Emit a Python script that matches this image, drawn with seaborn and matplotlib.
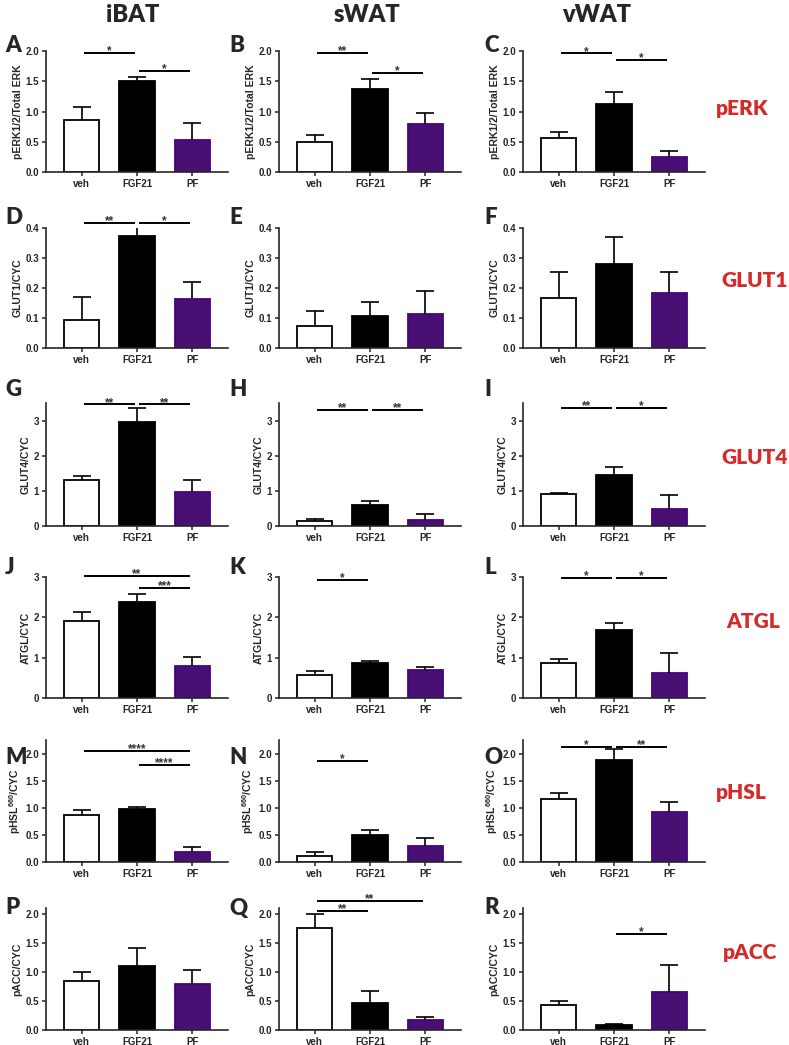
import numpy as np
import pandas as pd
import matplotlib
matplotlib.use("Agg")
import matplotlib.pyplot as plt
import seaborn as sns

# Groups and labels

groups = ["veh", "FGF21", "PF"]
tissues = ["iBAT", "sWAT", "vWAT"]
markers = ["pERK", "GLUT1", "GLUT4", "ATGL", "pHSL", "pACC"]
ylabels = ["pERK1/2/Total ERK", "GLUT1/CYC", "GLUT4/CYC", "ATGL/CYC",
           "pHSL$^{660}$/CYC", "pACC/CYC"]
letters = list("ABCDEFGHIJKLMNOPQR")

# Means and SEM (veh, FGF21, PF)

perk_ibat = [0.86, 1.51, 0.53]
perk_ibat_err = [0.21, 0.06, 0.28]
perk_swat = [0.50, 1.38, 0.79]
perk_swat_err = [0.11, 0.16, 0.18]
perk_vwat = [0.56, 1.13, 0.25]
perk_vwat_err = [0.10, 0.19, 0.09]

glut1_ibat = [0.093, 0.372, 0.163]
glut1_ibat_err = [0.076, 0.031, 0.057]
glut1_swat = [0.073, 0.107, 0.115]
glut1_swat_err = [0.052, 0.046, 0.075]
glut1_vwat = [0.167, 0.280, 0.185]
glut1_vwat_err = [0.088, 0.090, 0.068]

glut4_ibat = [1.30, 2.97, 0.98]
glut4_ibat_err = [0.12, 0.38, 0.34]
glut4_swat = [0.15, 0.60, 0.18]
glut4_swat_err = [0.05, 0.12, 0.15]
glut4_vwat = [0.90, 1.45, 0.48]
glut4_vwat_err = [0.05, 0.24, 0.39]

atgl_ibat = [1.92, 2.38, 0.80]
atgl_ibat_err = [0.22, 0.21, 0.21]
atgl_swat = [0.57, 0.87, 0.70]
atgl_swat_err = [0.09, 0.05, 0.06]
atgl_vwat = [0.87, 1.68, 0.62]
atgl_vwat_err = [0.10, 0.19, 0.50]

phsl_ibat = [0.86, 0.98, 0.19]
phsl_ibat_err = [0.09, 0.04, 0.08]
phsl_swat = [0.11, 0.50, 0.30]
phsl_swat_err = [0.07, 0.09, 0.15]
phsl_vwat = [1.16, 1.88, 0.92]
phsl_vwat_err = [0.11, 0.20, 0.19]

pacc_ibat = [0.85, 1.11, 0.79]
pacc_ibat_err = [0.14, 0.31, 0.24]
pacc_swat = [1.76, 0.47, 0.17]
pacc_swat_err = [0.23, 0.20, 0.05]
pacc_vwat = [0.43, 0.08, 0.65]
pacc_vwat_err = [0.07, 0.03, 0.47]

# Significance brackets: (from group, to group, height, stars)

sig_a = [(0, 1, 1.97, "*"), (1, 2, 1.67, "*")]
sig_b = [(0, 1, 1.97, "**"), (1, 2, 1.64, "*")]
sig_c = [(0, 1, 1.96, "*"), (1, 2, 1.85, "*")]
sig_d = [(0, 1, 0.418, "**"), (1, 2, 0.418, "*")]
sig_e = []
sig_f = []
sig_g = [(0, 1, 3.46, "**"), (1, 2, 3.46, "**")]
sig_h = [(0, 1, 3.31, "**"), (1, 2, 3.31, "**")]
sig_i = [(0, 1, 3.37, "**"), (1, 2, 3.37, "*")]
sig_j = [(0, 2, 3.03, "**"), (1, 2, 2.73, "***")]
sig_k = [(0, 1, 2.93, "*")]
sig_l = [(0, 1, 2.98, "*"), (1, 2, 2.98, "*")]
sig_m = [(0, 2, 2.05, "****"), (1, 2, 1.79, "****")]
sig_n = [(0, 1, 1.87, "*")]
sig_o = [(0, 1, 2.13, "*"), (1, 2, 2.13, "**")]
sig_p = []
sig_q = [(0, 2, 2.22, "**"), (0, 1, 2.05, "**")]
sig_r = [(1, 2, 1.66, "*")]

means = [
    [perk_ibat, perk_swat, perk_vwat],
    [glut1_ibat, glut1_swat, glut1_vwat],
    [glut4_ibat, glut4_swat, glut4_vwat],
    [atgl_ibat, atgl_swat, atgl_vwat],
    [phsl_ibat, phsl_swat, phsl_vwat],
    [pacc_ibat, pacc_swat, pacc_vwat],
]
errors = [
    [perk_ibat_err, perk_swat_err, perk_vwat_err],
    [glut1_ibat_err, glut1_swat_err, glut1_vwat_err],
    [glut4_ibat_err, glut4_swat_err, glut4_vwat_err],
    [atgl_ibat_err, atgl_swat_err, atgl_vwat_err],
    [phsl_ibat_err, phsl_swat_err, phsl_vwat_err],
    [pacc_ibat_err, pacc_swat_err, pacc_vwat_err],
]
sigs = [
    [sig_a, sig_b, sig_c],
    [sig_d, sig_e, sig_f],
    [sig_g, sig_h, sig_i],
    [sig_j, sig_k, sig_l],
    [sig_m, sig_n, sig_o],
    [sig_p, sig_q, sig_r],
]

# Axis ranges and ticks per row
ytops = [2.0, 0.4, 3.5, 3.0, 2.25, 2.1]
yticks = [[0, 0.5, 1.0, 1.5, 2.0], [0, 0.1, 0.2, 0.3, 0.4], [0, 1, 2, 3],
          [0, 1, 2, 3], [0, 0.5, 1.0, 1.5, 2.0], [0, 0.5, 1.0, 1.5, 2.0]]
yfmt = ["%.1f", "%.1f", "%d", "%d", "%.1f", "%.1f"]

# Style

purple = "#4B0082"
palette = {"veh": "white", "FGF21": "black", "PF": purple}
edges = ["black", "black", purple]
red = "#D42A2A"

sns.set_style("ticks")
plt.rcParams["font.family"] = ["Liberation Sans", "DejaVu Sans"]
plt.rcParams["font.weight"] = "bold"
plt.rcParams["axes.labelweight"] = "bold"
plt.rcParams["mathtext.fontset"] = "custom"
plt.rcParams["mathtext.bf"] = "Liberation Sans:bold"
plt.rcParams["mathtext.rm"] = "Liberation Sans:bold"
plt.rcParams["mathtext.default"] = "bf"

W, H = 789, 1045
fig = plt.figure(figsize=(W / 100, H / 100), dpi=100)

col_left = [46, 279, 523]
col_width = 182
rows_px = [(51, 172), (228, 348), (403, 526), (577, 698), (740, 862), (908, 1030)]

for r in range(6):
    top, bot = rows_px[r]
    for c in range(3):
        ax = fig.add_axes([col_left[c] / W, 1 - bot / H, col_width / W, (bot - top) / H])
        df = pd.DataFrame({"group": groups, "value": means[r][c]})
        sns.barplot(data=df, x="group", y="value", hue="group", order=groups,
                    hue_order=groups, palette=palette, width=0.64, errorbar=None,
                    legend=False, linewidth=1.3, edgecolor="black", ax=ax)
        for patch, ec in zip(ax.patches, edges):
            patch.set_edgecolor(ec)

        # upward-only SEM bars
        err = np.array(errors[r][c])
        eb = ax.errorbar(np.arange(3), means[r][c], yerr=[np.zeros(3), err],
                         fmt="none", ecolor="black", elinewidth=1.2,
                         capsize=6.5, capthick=1.2, zorder=3)
        eb[1][0].set_visible(False)

        for i, j, y, label in sigs[r][c]:
            ax.plot([i + 0.03, j - 0.03], [y, y], color="black", lw=1.4,
                    clip_on=False, solid_capstyle="butt")
            ax.annotate(label, xy=((i + j) / 2, y), xytext=(0, -1.0),
                        textcoords="offset points", ha="center", va="baseline",
                        fontsize=8.5, color="#333333", annotation_clip=False)

        ax.set_xlim(-0.65, 2.65)
        ax.set_ylim(0, ytops[r])
        ax.set_yticks(yticks[r])
        ax.set_yticklabels([yfmt[r] % v for v in yticks[r]])
        ax.set_xlabel("")
        ax.set_ylabel(ylabels[r], fontsize=7.5, labelpad=2)
        ax.tick_params(labelsize=7, width=1.1, length=3, pad=2)
        sns.despine(ax=ax)
        for s in ["left", "bottom"]:
            ax.spines[s].set_linewidth(1.2)

# Column headers
for t, x in zip(tissues, [133, 367, 597]):
    fig.text(x / W, 1 - 15 / H, t, ha="center", va="center", fontsize=17,
             family=["Lato", "DejaVu Sans"], fontweight="heavy")

# Row labels
label_pos = [(742, 108), (755, 280), (755, 458), (753, 622), (741, 792), (750, 953)]
for m, (x, y) in zip(markers, label_pos):
    fig.text(x / W, 1 - y / H, m, ha="center", va="center", fontsize=15,
             family=["Lato", "DejaVu Sans"], fontweight="heavy", color=red)

# Panel letters
letter_x = [5, 229, 484]
letter_y = [45, 217, 390, 567, 757, 908]
for r in range(6):
    for c in range(3):
        fig.text(letter_x[c] / W, 1 - letter_y[r] / H, letters[r * 3 + c],
                 ha="left", va="center", fontsize=16,
                 family=["Lato", "DejaVu Sans"], fontweight="heavy")

fig.savefig("out.png", dpi=100)
